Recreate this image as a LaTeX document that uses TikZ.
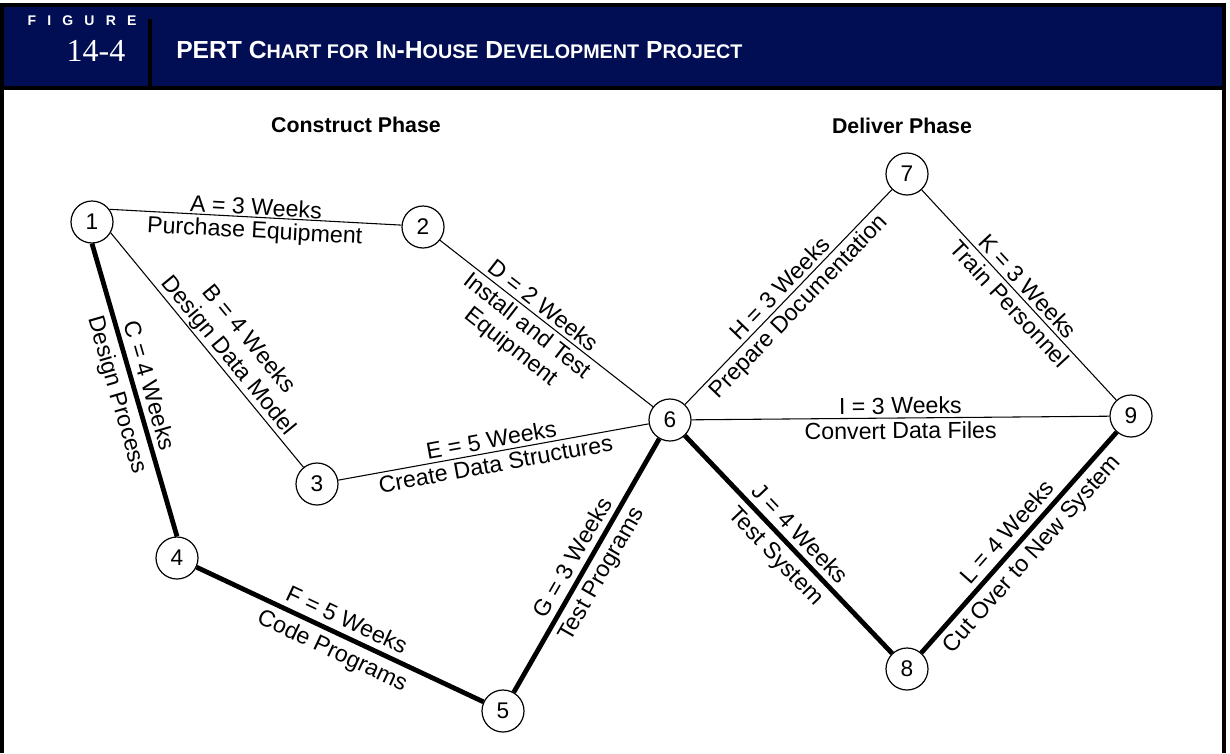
\documentclass[tikz,border=0pt]{standalone}
\usepackage{fontspec}
\setmainfont{Liberation Sans}
\newfontfamily\numfont{Liberation Serif}
\newfontfamily\spacedfont{Liberation Sans}[LetterSpace=80]
\usetikzlibrary{positioning}
\definecolor{navy}{HTML}{020E54}
\newcommand{\smcp}[1]{{\fontsize{14.8}{16}\selectfont #1}}
\tikzset{
  frameline/.style={draw=black,line width=2.3pt},
  evt/.style={draw,circle,fill=white,line width=0.9pt,minimum size=31.5pt,inner sep=0pt,font=\fontsize{17}{20}\selectfont},
  act/.style={draw,line width=0.8pt},
  critact/.style={draw,line width=3.6pt},
  toplbl/.style={above,sloped,inner sep=2.6pt,font=\fontsize{17.4}{19.5}\selectfont},
  botlbl/.style={below,sloped,inner sep=2.6pt,font=\fontsize{17.4}{19.5}\selectfont},
  wide/.style={inner sep=4.2pt},
  phase/.style={font=\bfseries\fontsize{16}{18}\selectfont},
  headtext/.style={text=white,inner sep=0pt}}

\begin{document}
\begin{tikzpicture}[x=0.75pt,y=-0.75pt]
  \useasboundingbox (0,0) rectangle (1230,753);
  % header bar
  \fill[navy] (2,5) rectangle (1224,88);
  \draw[frameline] (2,753) -- (2,5) -- (1224,5) -- (1224,753);
  \draw[frameline] (2,88) -- (1224,88);
  \draw[frameline] (150,19) -- (150,88);
  \node[headtext,font=\spacedfont\bfseries\fontsize{10.5}{11}\selectfont] (figword) at (82,21) {FIGURE};
  \node[headtext,font=\numfont\fontsize{24}{26}\selectfont] (fignum) at (96,51) {14-4};
  \node[headtext,anchor=west,font=\bfseries\fontsize{18.5}{20}\selectfont] (title) at (176,50)
    {PERT C\smcp{HART FOR} I\smcp{N}-H\smcp{OUSE} D\smcp{EVELOPMENT} P\smcp{ROJECT}};
  % phases
  \node[phase] (construct) at (356,125) {Construct Phase};
  \node[phase] (deliver) at (902,126) {Deliver Phase};
  % events
  \node[evt] (n1) at (92,222) {1};
  \node[evt] (n2) at (423,227) {2};
  \node[evt] (n3) at (317,484) {3};
  \node[evt] (n4) at (177,558) {4};
  \node[evt] (n5) at (503,711) {5};
  \node[evt] (n6) at (670,420) {6};
  \node[evt] (n7) at (907,174) {7};
  \node[evt] (n8) at (907,669) {8};
  \node[evt] (n9) at (1131,416) {9};
  % activities
  \draw[act] (n1.36) -- node[toplbl,inner sep=1pt]{A = 3 Weeks} node[botlbl]{Purchase Equipment} (n2.175);
  \draw[act] (n1.-30) -- node[toplbl,pos=0.56,align=center,inner sep=0.8pt]{B = 4 Weeks\\Design Data Model} (n3.129);
  \draw[critact] (n1.south) -- node[toplbl,wide]{C = 4 Weeks} node[botlbl,wide]{Design Process} (n4.north);
  \draw[act] (n2) -- node[toplbl,pos=0.45]{D = 2 Weeks} node[botlbl,pos=0.45,align=center]{Install and Test\\Equipment} (n6);
  \draw[act] (n3) -- node[toplbl]{E = 5 Weeks} node[botlbl]{Create Data Structures} (n6);
  \draw[critact] (n4) -- node[toplbl,wide]{F = 5 Weeks} node[botlbl,wide]{Code Programs} (n5);
  \draw[critact] (n5) -- node[toplbl,wide]{G = 3 Weeks} node[botlbl,wide]{Test Programs} (n6);
  \draw[act] (n6) -- node[toplbl]{H = 3 Weeks} node[botlbl]{Prepare Documentation} (n7);
  \draw[act] (n6) -- node[toplbl]{I = 3 Weeks} node[botlbl]{Convert Data Files} (n9);
  \draw[critact] (n6) -- node[toplbl,wide]{J = 4 Weeks} node[botlbl,wide]{Test System} (n8);
  \draw[act] (n7) -- node[toplbl]{K = 3 Weeks} node[botlbl]{Train Personnel} (n9);
  \draw[critact] (n8) -- node[toplbl,wide]{L = 4 Weeks} node[botlbl,wide]{Cut Over to New System} (n9);
\end{tikzpicture}
\end{document}
